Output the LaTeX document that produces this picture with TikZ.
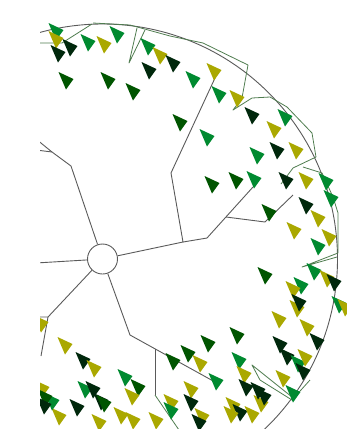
\documentclass[tikz,border=0pt]{standalone}
\definecolor{cO}{RGB}{170,168,0}
\definecolor{cG}{RGB}{0,138,48}
\definecolor{cD}{RGB}{0,85,0}
\definecolor{cV}{RGB}{0,40,12}
\definecolor{lineG}{RGB}{90,90,90}
\definecolor{lineV}{RGB}{80,125,80}
\newcommand\mytri[3]{\fill[#3] (#1,#2) ++(-7.5,-8) -- ++(15,7) -- ++(-7.5,10.5) -- cycle;}
\begin{document}
\begin{tikzpicture}[x=1pt,y=-1pt,
  tree/.style={draw=lineG,line width=0.9pt},
  rim/.style={draw=lineV,line width=0.8pt,line join=round}]
\useasboundingbox (0,0) rectangle (347,429);
\begin{scope}
\clip (40,0) rectangle (347,429);
% root
\node[tree,circle,minimum size=30pt,inner sep=0pt] (root) at (102.5,259) {};
\coordinate (a1) at (71,166);
\coordinate (a2) at (52,152);
\coordinate (a3) at (36,139);
\coordinate (a4) at (36,150);
\coordinate (b1) at (36,263);
\coordinate (c1) at (183,242);
\coordinate (c2) at (171,173);
\coordinate (c3) at (215,78);
\coordinate (c4) at (207,238);
\coordinate (c5) at (226,217);
\coordinate (c6) at (253,187);
\coordinate (c7) at (265,222);
\coordinate (c8) at (293,195);
\coordinate (d1) at (48,317);
\coordinate (d2) at (36,317);
\coordinate (d3) at (41,356);
\coordinate (e1) at (130,335);
\coordinate (e2) at (155,349);
\coordinate (e3) at (215,382);
\coordinate (e4) at (155,395);
\coordinate (e5) at (179,430);
\draw[tree] (root) -- (a1) -- (a2) -- (a3);
\draw[tree] (a2) -- (a4);
\draw[tree] (root) -- (b1);
\draw[tree] (root) -- (c1) -- (c2) -- (c3);
\draw[tree] (c1) -- (c4) -- (c6);
\draw[tree] (c5) -- (c7) -- (c8);
\draw[tree] (root) -- (d1) -- (d2);
\draw[tree] (d1) -- (d3);
\draw[tree] (root) -- (e1) -- (e3);
\draw[tree] (e2) -- (e4);
\draw[rim] (e4) -- (e5);
% outer circle
\draw[tree] (root.center) circle (235);
% outer rim lines
\draw[rim] (93,23) -- (130,25) -- (170,36) -- (203,43) -- (248,65) -- (242,98) -- (233,110) -- (252,98) -- (270,97) -- (287,107) -- (312,133) -- (316,157) -- (293,168) -- (281,184);
\draw[rim] (303,167) -- (322,173) -- (333,197) -- (338,213) -- (338,253) -- (302,267) -- (337,257);
\draw[rim] (292,397) -- (252,365) -- (260,380) -- (292,400) -- (310,380);
\draw[rim] (36,43) -- (62,43) -- (92,24);
\draw[rim] (137,28) -- (129,63) -- (145,30);
% triangles top
\mytri{56}{31}{cG}
\mytri{56}{39}{cO}
\mytri{58}{53}{cV}
\mytri{70}{47}{cV}
\mytri{88}{42}{cG}
\mytri{104}{44}{cO}
\mytri{117}{34}{cG}
\mytri{148}{46}{cG}
\mytri{160}{55}{cO}
\mytri{173}{63}{cV}
\mytri{149}{70}{cV}
\mytri{66}{80}{cD}
\mytri{108}{80}{cD}
\mytri{133}{91}{cD}
\mytri{180}{122}{cD}
\mytri{193}{79}{cG}
\mytri{214}{71}{cO}
\mytri{219}{94}{cG}
\mytri{237}{98}{cO}
\mytri{252}{115}{cV}
\mytri{285}{117}{cG}
\mytri{274}{129}{cO}
\mytri{207}{137}{cG}
\mytri{277}{150}{cV}
\mytri{296}{150}{cO}
\mytri{257}{155}{cG}
% middle right
\mytri{212}{184}{cD}
\mytri{236}{180}{cD}
\mytri{254}{179}{cG}
\mytri{286}{180}{cV}
\mytri{306}{180}{cO}
\mytri{326}{181}{cG}
\mytri{331}{198}{cG}
\mytri{269}{212}{cD}
\mytri{306}{205}{cV}
\mytri{318}{218}{cO}
\mytri{294}{230}{cO}
\mytri{329}{237}{cO}
\mytri{318}{246}{cG}
\mytri{265}{275}{cD}
\mytri{314}{271}{cG}
\mytri{327}{278}{cO}
\mytri{334}{282}{cV}
\mytri{301}{285}{cG}
\mytri{293}{289}{cO}
\mytri{297}{308}{cO}
\mytri{299}{302}{cV}
\mytri{339}{304}{cG}
\mytri{345}{307}{cO}
\mytri{279}{319}{cO}
\mytri{307}{327}{cO}
\mytri{317}{341}{cV}
\mytri{280}{344}{cV}
\mytri{287}{356}{cV}
\mytri{298}{363}{cG}
\mytri{305}{357}{cO}
\mytri{303}{371}{cV}
\mytri{283}{378}{cO}
\mytri{293}{393}{cG}
% bottom middle
\mytri{237}{335}{cD}
\mytri{208}{343}{cD}
\mytri{188}{353}{cD}
\mytri{173}{361}{cD}
\mytri{200}{363}{cO}
\mytri{216}{381}{cG}
\mytri{239}{360}{cG}
\mytri{244}{374}{cO}
\mytri{246}{387}{cV}
\mytri{261}{403}{cO}
\mytri{258}{390}{cV}
\mytri{264}{396}{cV}
\mytri{191}{389}{cO}
\mytri{191}{402}{cV}
\mytri{233}{405}{cO}
\mytri{240}{412}{cV}
\mytri{252}{414}{cO}
\mytri{231}{414}{cO}
\mytri{202}{416}{cO}
\mytri{199}{422}{cV}
% bottom left
\mytri{41}{323}{cO}
\mytri{65}{345}{cO}
\mytri{83}{360}{cV}
\mytri{94}{368}{cO}
\mytri{125}{377}{cG}
\mytri{138}{387}{cD}
\mytri{132}{396}{cO}
\mytri{85}{389}{cG}
\mytri{93}{389}{cV}
\mytri{101}{401}{cV}
\mytri{104}{403}{cD}
\mytri{77}{407}{cV}
\mytri{59}{416}{cO}
\mytri{52}{401}{cG}
\mytri{42}{388}{cO}
\mytri{45}{397}{cD}
\mytri{44}{405}{cV}
\mytri{99}{422}{cO}
\mytri{121}{415}{cO}
\mytri{133}{420}{cO}
\mytri{156}{420}{cO}
\mytri{171}{402}{cO}
\mytri{171}{410}{cG}
\end{scope}
\end{tikzpicture}
\end{document}
